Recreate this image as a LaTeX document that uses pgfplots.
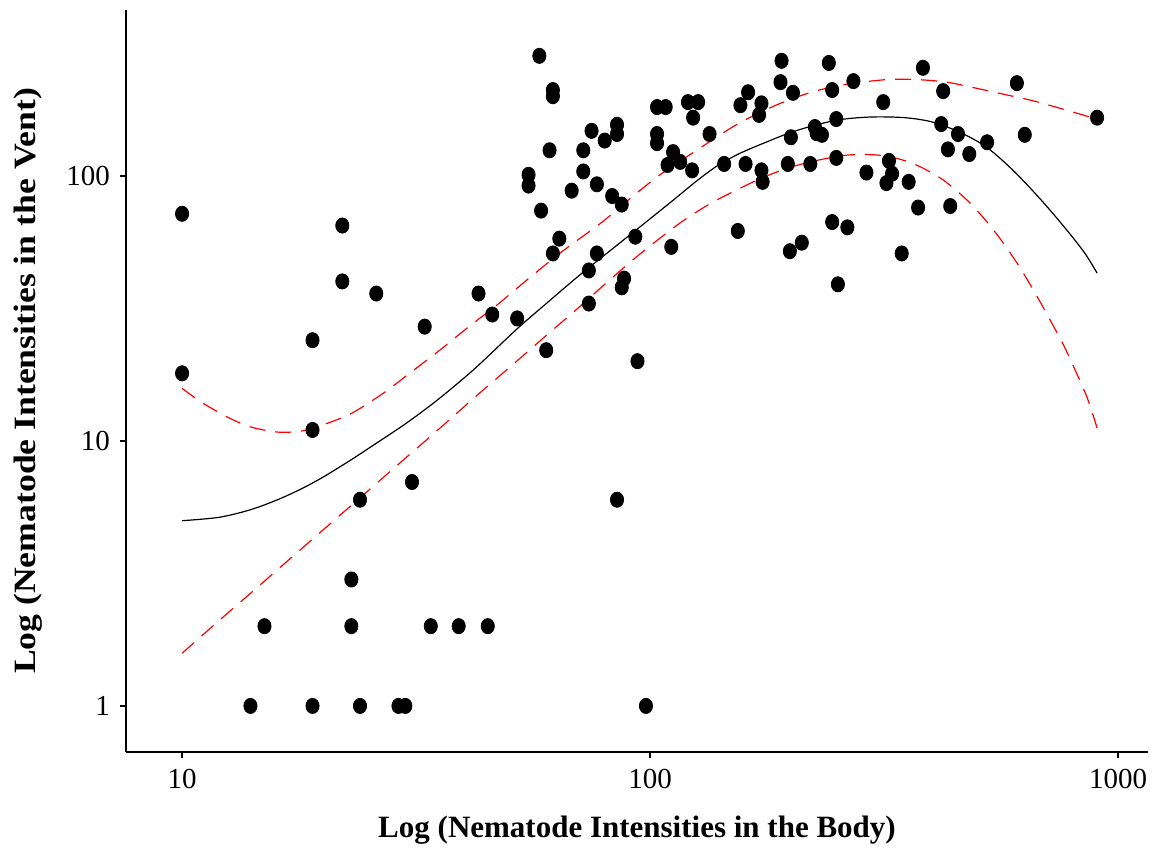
\documentclass[border=0pt]{standalone}
\usepackage{fontspec}
\setmainfont{Liberation Serif}
\usepackage{graphicx}
\usepackage{pgfplots}
\pgfplotsset{compat=1.18}

% Nematode counts: body (x) against vent (y), one row per host
\pgfplotstableread{
x y
10 72
10 18
22 65
22 40
19 24
19 11
26 36
33 27
43 36
46 30
52 29
60 22
24 6
31 7
23 3
15 2
23 2
34 2
39 2
45 2
14 1
19 1
24 1
29 1
30 1
98 1
85 6
94 20
58 284
62 211
62 200
55 101
55 92
58.5 74
61 125
64 58
62 51
68 88
72 104
72 125
75 148
80 136
85 156
85 144
77 93
83 84
87 78
74 44
74 33
77 51
88 41
87 38
93 59
111 54
103.5 182
108 182
120.5 190
126.7 190
123.6 166
103.5 144
103.5 133
112 123
109 110
116 113
123 105
134 144
144 111
162 207
156 185
173 188
171 170
200 140
225 153
227 145
233 143
250 164
191 272
241 267
190 226
202 206
245 211
272 228
383 256
315 190
160 111
173 105
174 95
197 111
220 111
250 117
290 103
324 114
329 102
320 94
357 95
374 76
438 77
245 67
264 64
154 62
199 52
211 56
345 51
252 39
423 209
608 224
902 166
419 157
455 144
525 134
632 143
433 126
481 121
}\nematodes

% Fitted curve and its confidence band
\pgfplotstableread{
x y
10 5.0
12 5.15
14 5.5
16 6.0
18 6.6
20 7.3
23 8.5
26 9.8
30 11.6
35 14.2
42 18.6
52 26.5
60 33
71 42.5
83 53
97 66
113 82
126 96
140 110
156 122
175 133
200 146
230 157
260 164
300 167
350 166
400 160
460 146
525 128
600 104
690 80
780 62
850 51
902 43
}\fitline

\pgfplotstableread{
x y
10 15.8
11 14.0
12.5 12.3
14 11.3
16 10.8
18 10.9
20 11.5
23 12.7
27 15.2
31 18.3
36 22.4
41 27
47 32.5
55 41
65 52
79 67
92 84
105 101
124 123
150 153
170 172
190 188
223 208
264 222
320 231
372 231
430 226
500 214
580 202
660 192
752 180
859 168
902 163
}\upperband

\pgfplotstableread{
x y
10 1.58
12 2.10
14 2.66
17 3.59
20 4.61
24 6.10
29 8.17
35 10.9
42 14.5
50 18.9
60 25.0
70 31.6
80 39
92 48.3
104 57.5
118 68
135 79
154 89
175 99
200 108
230 115
265 120
305 120
340 116
375 109
423 96.6
483 79
546 61.5
608 47
660 37
716 28.6
765 23
810 18.5
860 14.5
902 11.2
}\lowerband

\begin{document}
\begin{tikzpicture}
\useasboundingbox (-63pt,-47.5pt) rectangle (514pt,376pt);
\begin{axis}[
  at={(0pt,0pt)}, anchor=south west,
  scale only axis, width=511pt, height=371pt,
  xmode=log, ymode=log,
  xmin=7.59, xmax=1159, ymin=0.67, ymax=423,
  axis lines=left,
  axis line style={-, line width=0.9pt},
  tick align=outside, major tick length=3pt,
  tick style={black, line width=0.7pt},
  xtick={10,100,1000}, xticklabels={10,100,1000},
  ytick={1,10,100}, yticklabels={1,10,100},
  xminorticks=false, yminorticks=false,
  tick label style={font=\fontsize{14.5}{17}\selectfont},
  xticklabel style={yshift=-2pt},
  yticklabel style={xshift=-1.5pt},
  label style={font=\fontsize{15.5}{18}\selectfont\bfseries},
  xlabel={Log (Nematode Intensities in the Body)},
  ylabel={\scalebox{1.15}[1]{Log (Nematode Intensities in the Vent)}},
  xlabel style={at={(axis description cs:0.5,-0.105)}, anchor=center},
  ylabel style={at={(axis description cs:-0.096,0.5)}, anchor=center},
]
\addplot[red, line width=0.6pt, dash pattern=on 8pt off 5pt, smooth] table {\upperband};
\addplot[red, line width=0.6pt, dash pattern=on 8pt off 5pt, smooth] table {\lowerband};
\addplot[black, line width=0.6pt, smooth] table {\fitline};
\addplot[only marks, mark=*, mark size=3.3pt, black,
  mark options={yscale=1.15}] table {\nematodes};
\end{axis}
\end{tikzpicture}
\end{document}
